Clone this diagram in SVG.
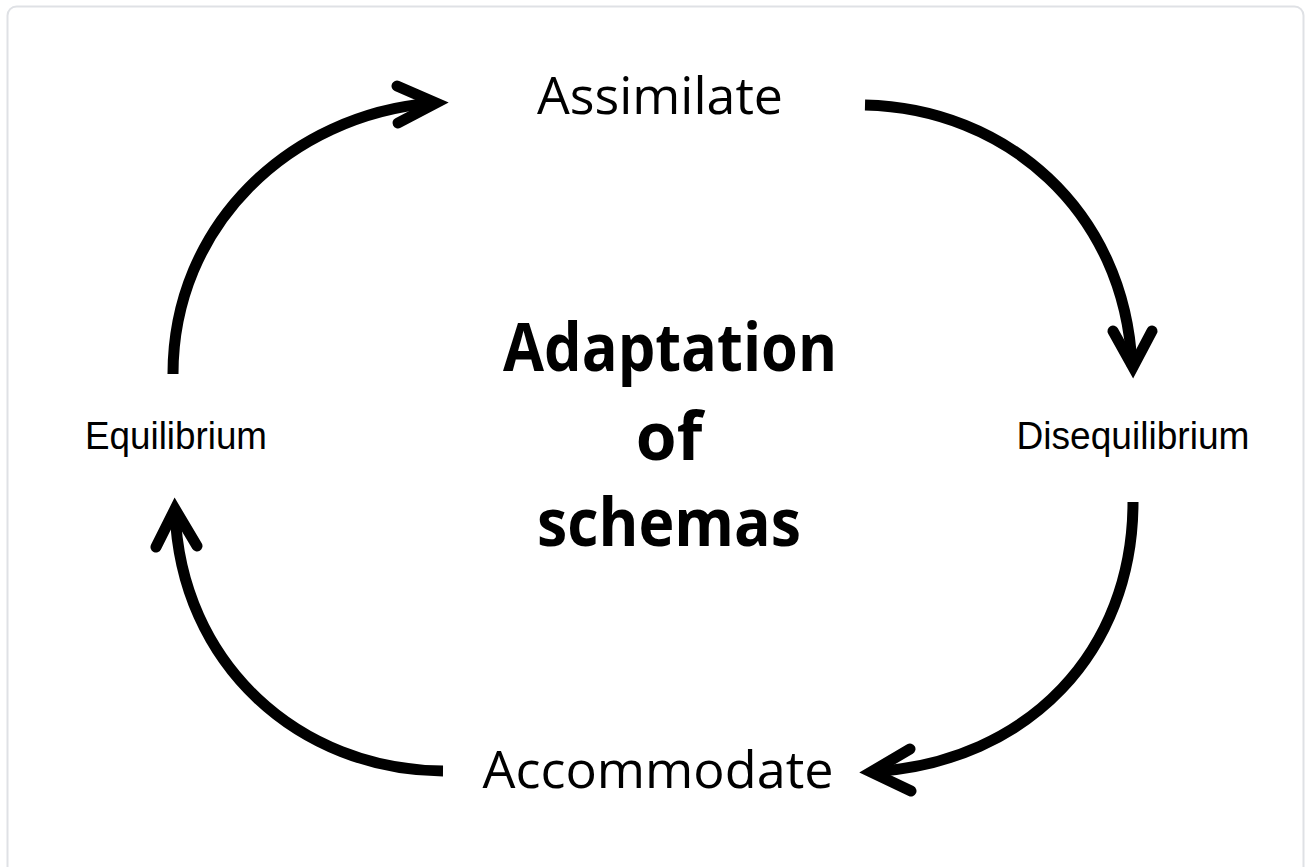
<svg xmlns="http://www.w3.org/2000/svg" width="1305" height="867" viewBox="0 0 1305 867">
<style>
.lbl{font-family:"Open Sans","Liberation Sans",sans-serif;font-size:52px;fill:#000;text-anchor:middle}
.sm{font-family:"Liberation Sans",Arial,sans-serif;font-size:39px;fill:#000;text-anchor:middle}
.ctr{font-family:"Open Sans","Liberation Sans",sans-serif;font-weight:bold;font-size:66px;fill:#000;text-anchor:middle}
.arc{fill:none;stroke:#000;stroke-width:11}
.head{fill:none;stroke:#000;stroke-width:11;stroke-linecap:round;stroke-linejoin:miter}
</style>
<rect x="0" y="0" width="1305" height="867" fill="#fff"/>
<rect x="7.5" y="6.5" width="1296" height="880" rx="9" fill="#fff" stroke="#dfe1e5" stroke-width="2"/>
<g id="connectors">
  <path class="arc" d="M173,374 C173,225 290,115 432,103"/>
  <path class="head" d="M397,86 L436,103 L398,123"/>
  <path class="arc" d="M865,105 C1005,108 1125,210 1132,366"/>
  <path class="head" d="M1113,331 L1133,367 L1152,331"/>
  <path class="arc" d="M1133,502 C1133,650 1030,762 872,772"/>
  <path class="head" d="M910,749 L871,772 L911,791"/>
  <path class="arc" d="M443,771 C300,770 180,665 175,510"/>
  <path class="head" d="M156,547 L175,509 L197,546"/>
</g>
<g id="node-assimilate"><text class="lbl" x="660" y="114" textLength="246" lengthAdjust="spacingAndGlyphs">Assimilate</text></g>
<g id="node-disequilibrium"><text class="sm" x="1133" y="449" textLength="233" lengthAdjust="spacingAndGlyphs">Disequilibrium</text></g>
<g id="node-accommodate"><text class="lbl" x="658" y="788" textLength="351" lengthAdjust="spacingAndGlyphs">Accommodate</text></g>
<g id="node-equilibrium"><text class="sm" x="176" y="449" textLength="182" lengthAdjust="spacingAndGlyphs">Equilibrium</text></g>
<g id="node-center">
  <text class="ctr" x="670" y="371" textLength="334" lengthAdjust="spacingAndGlyphs">Adaptation</text>
  <text class="ctr" x="669" y="460">of</text>
  <text class="ctr" x="669" y="546" textLength="264" lengthAdjust="spacingAndGlyphs">schemas</text>
</g>
</svg>
